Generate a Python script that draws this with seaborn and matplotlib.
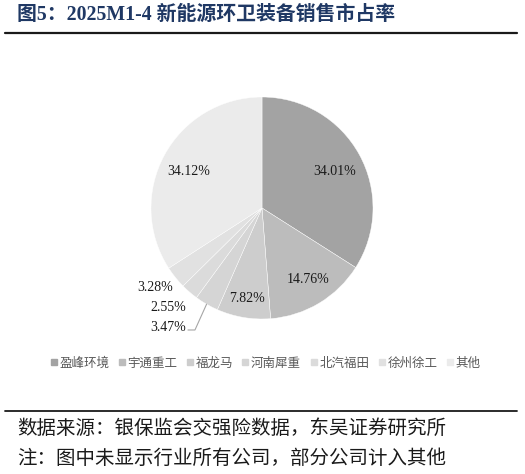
import numpy as np
import pandas as pd
import seaborn as sns
import matplotlib
matplotlib.use("Agg")
import matplotlib.pyplot as plt
from matplotlib.lines import Line2D

# ---- data ----
companies = ["盈峰环境", "宇通重工", "福龙马", "河南犀重", "北汽福田", "徐州徐工", "其他"]
shares = [34.01, 14.76, 7.82, 3.47, 2.55, 3.28, 34.12]
title = "图5：2025M1-4 新能源环卫装备销售市占率"
source_line = "数据来源：银保监会交强险数据，东吴证券研究所"
note_line = "注：图中未显示行业所有公司，部分公司计入其他"

df = pd.DataFrame({"company": companies, "share": shares})

sns.set_theme(style="white")
plt.rcParams["font.family"] = ["Noto Sans CJK SC", "DejaVu Sans"]

colors = ["#a3a3a3", "#bcbcbc", "#cdcdcd", "#d5d5d5", "#dbdbdb", "#e1e1e1", "#ebebeb"]

W, H = 525, 474
fig = plt.figure(figsize=(W / 100, H / 100), dpi=100)

# pie axes: centre (262,208) px, radius 111 px
R = 111
cx, cy = 262, 208
k = 1.2
ax = fig.add_axes([(cx - k * R) / W, (H - cy - k * R) / H, 2 * k * R / W, 2 * k * R / H])

wedges, _ = ax.pie(df["share"], colors=colors, startangle=90, counterclock=False,
                   wedgeprops=dict(edgecolor="white", linewidth=0.3))
ax.set_xlim(-k, k)
ax.set_ylim(-k, k)
ax.set_aspect("equal")
ax.axis("off")

serif = ["Liberation Serif", "DejaVu Serif"]

# label layout: (radius, angle shift in degrees)
layout = [(0.73, -2), (0.77, 2), (0.83, 0), (1.37, -8), (1.23, -2.7), (1.2, -2.3), (0.74, 2.5)]
for w, val, (rr, dth) in zip(wedges, df["share"], layout):
    mid = 0.5 * (w.theta1 + w.theta2)
    a = np.deg2rad(mid + dth)
    ax.text(rr * np.cos(a), rr * np.sin(a), f"{val:.2f}%", ha="center", va="center",
            fontsize=10, family=serif, color="#1a1a1a")

# leader line for 河南犀重
w = wedges[3]
mid = np.deg2rad(0.5 * (w.theta1 + w.theta2))
x0, y0 = np.cos(mid), np.sin(mid)
ax.plot([x0, -0.604, -0.667], [y0, -1.099, -1.099], color="#a6a6a6", lw=0.8,
        clip_on=False, solid_joinstyle="miter")

# legend
handles = [Line2D([0], [0], marker="s", linestyle="", markersize=4.5,
                  markerfacecolor=c, markeredgecolor=c) for c in colors]
leg = fig.legend(handles, companies, loc="center", bbox_to_anchor=(0.505, 1 - 363 / H),
                 ncol=7, frameon=False, fontsize=9, handlelength=0.6, handletextpad=0.15,
                 columnspacing=0.7, labelcolor="#595959", borderaxespad=0)

# title
fig.text(17 / W, 1 - 15 / H, title, fontsize=14.3, fontweight="bold", color="#1f3864",
         ha="left", va="center", family=["Liberation Serif", "Noto Sans CJK SC"])
fig.add_artist(Line2D([5 / W, 517 / W], [1 - 33 / H, 1 - 33 / H], color="#1a1a1a", lw=1.6))

# footer
fig.add_artist(Line2D([5 / W, 517 / W], [1 - 411 / H, 1 - 411 / H], color="#1a1a1a", lw=1.3))
fig.text(17 / W, 1 - 428 / H, source_line, fontsize=14, color="#1a1a1a", ha="left", va="center")
fig.text(17 / W, 1 - 458 / H, note_line, fontsize=14, color="#1a1a1a", ha="left", va="center")

fig.savefig("out.png", dpi=100)
